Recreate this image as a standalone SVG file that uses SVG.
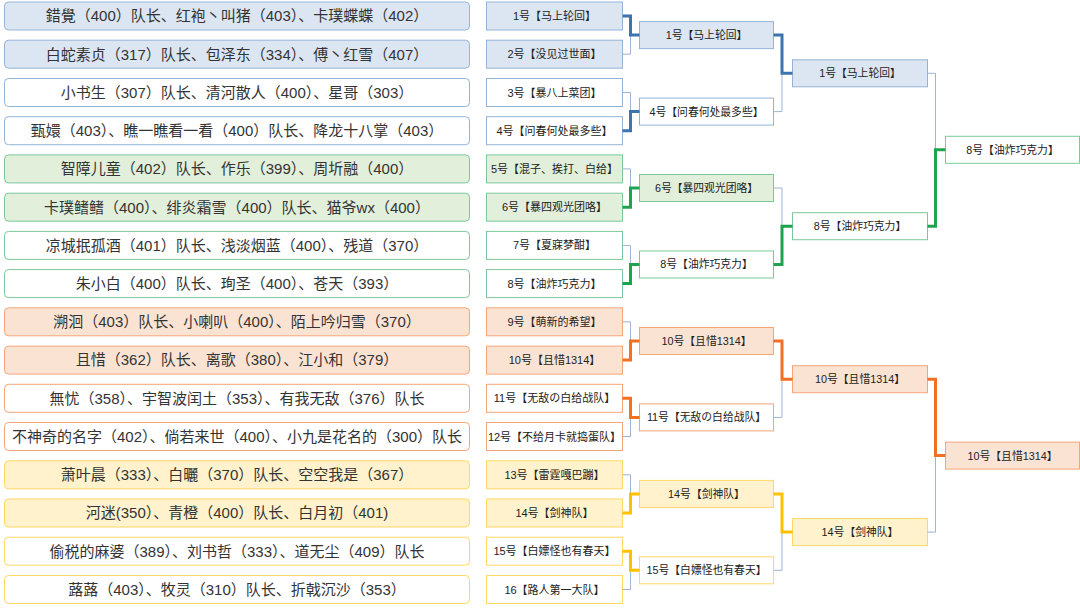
<svg xmlns="http://www.w3.org/2000/svg" width="1080" height="609" viewBox="0 0 1080 609">
<style>
text{font-family:"Liberation Sans","Noto Sans CJK SC",sans-serif;text-anchor:middle;fill:#222}
.L{font-size:15px;fill:#333}
.r1{font-size:11px}
.r{font-size:10.8px}
.bf{fill:#DCE6F2;stroke:#95B3D7;stroke-width:1}
.bw{fill:#fff;stroke:#95B3D7;stroke-width:1}
.gf{fill:#E2EFDA;stroke:#7DC89A;stroke-width:1}
.gw{fill:#fff;stroke:#7DC89A;stroke-width:1}
.of{fill:#FBE3D4;stroke:#F4A67A;stroke-width:1}
.ow{fill:#fff;stroke:#F4A67A;stroke-width:1}
.yf{fill:#FFF2CC;stroke:#FFD865;stroke-width:1}
.yw{fill:#fff;stroke:#FFD865;stroke-width:1}
.thin{fill:none;stroke:#9DB4D2;stroke-width:1}
.tb{fill:none;stroke:#3C74B0;stroke-width:3}
.tg{fill:none;stroke:#1EA44F;stroke-width:3}
.to{fill:none;stroke:#F36F21;stroke-width:3}
.ty{fill:none;stroke:#FFC000;stroke-width:3}
</style>
<rect width="1080" height="609" fill="#fff"/>
<g id="teams">
<g id="team1"><rect class="bf" x="4.5" y="2" width="465" height="28" rx="4"/><text class="L" x="237" y="21.3">錯覺（400）队长、红袍丶叫猪（403）、卡璞蝶蝶（402）</text></g>
<g id="team2"><rect class="bf" x="4.5" y="40.2" width="465" height="28" rx="4"/><text class="L" x="237" y="59.5">白蛇素贞（317）队长、包泽东（334）、傅丶红雪（407）</text></g>
<g id="team3"><rect class="bw" x="4.5" y="78.5" width="465" height="28" rx="4"/><text class="L" x="237" y="97.8">小书生（307）队长、清河散人（400）、星哥（303）</text></g>
<g id="team4"><rect class="bw" x="4.5" y="116.7" width="465" height="28" rx="4"/><text class="L" x="237" y="136">甄嬛（403）、瞧一瞧看一看（400）队长、降龙十八掌（403）</text></g>
<g id="team5"><rect class="gf" x="4.5" y="154.9" width="465" height="28" rx="4"/><text class="L" x="237" y="174.2">智障儿童（402）队长、作乐（399）、周圻融（400）</text></g>
<g id="team6"><rect class="gf" x="4.5" y="193.2" width="465" height="28" rx="4"/><text class="L" x="237" y="212.5">卡璞鳍鳍（400）、绯炎霜雪（400）队长、猫爷wx（400）</text></g>
<g id="team7"><rect class="gw" x="4.5" y="231.4" width="465" height="28" rx="4"/><text class="L" x="237" y="250.7">凉城抿孤酒（401）队长、浅淡烟蓝（400）、残道（370）</text></g>
<g id="team8"><rect class="gw" x="4.5" y="269.6" width="465" height="28" rx="4"/><text class="L" x="237" y="288.9">朱小白（400）队长、珣圣（400）、苍天（393）</text></g>
<g id="team9"><rect class="of" x="4.5" y="307.8" width="465" height="28" rx="4"/><text class="L" x="237" y="327.1">溯洄（403）队长、小喇叭（400）、陌上吟归雪（370）</text></g>
<g id="team10"><rect class="of" x="4.5" y="346.1" width="465" height="28" rx="4"/><text class="L" x="237" y="365.4">且惜（362）队长、离歌（380）、江小和（379）</text></g>
<g id="team11"><rect class="ow" x="4.5" y="384.3" width="465" height="28" rx="4"/><text class="L" x="237" y="403.6">無忧（358）、宇智波闰土（353）、有我无敌（376）队长</text></g>
<g id="team12"><rect class="ow" x="4.5" y="422.5" width="465" height="28" rx="4"/><text class="L" x="237" y="441.8">不神奇的名字（402）、倘若来世（400）、小九是花名的（300）队长</text></g>
<g id="team13"><rect class="yf" x="4.5" y="460.8" width="465" height="28" rx="4"/><text class="L" x="237" y="480.1">萧叶晨（333）、白曬（370）队长、空空我是（367）</text></g>
<g id="team14"><rect class="yf" x="4.5" y="499" width="465" height="28" rx="4"/><text class="L" x="237" y="518.3">河迷(350）、青橙（400）队长、白月初（401)</text></g>
<g id="team15"><rect class="yw" x="4.5" y="537.2" width="465" height="28" rx="4"/><text class="L" x="237" y="556.5">偷税的麻婆（389）、刘书哲（333）、道无尘（409）队长</text></g>
<g id="team16"><rect class="yw" x="4.5" y="575.5" width="465" height="28" rx="4"/><text class="L" x="237" y="594.8">蕗蕗（403）、牧灵（310）队长、折戟沉沙（353）</text></g>
</g>
<g id="round1">
<g id="r1-1"><rect class="bf" x="486.5" y="2" width="136" height="28"/><text class="r1" x="554.5" y="20">1号【马上轮回】</text></g>
<g id="r1-2"><rect class="bf" x="486.5" y="40.2" width="136" height="28"/><text class="r1" x="554.5" y="58.2">2号【没见过世面】</text></g>
<g id="r1-3"><rect class="bw" x="486.5" y="78.5" width="136" height="28"/><text class="r1" x="554.5" y="96.5">3号【暴八上菜团】</text></g>
<g id="r1-4"><rect class="bw" x="486.5" y="116.7" width="136" height="28"/><text class="r1" x="554.5" y="134.7">4号【问春何处最多些】</text></g>
<g id="r1-5"><rect class="gf" x="486.5" y="154.9" width="136" height="28"/><text class="r1" x="554.5" y="172.9">5号【混子、挨打、白给】</text></g>
<g id="r1-6"><rect class="gf" x="486.5" y="193.2" width="136" height="28"/><text class="r1" x="554.5" y="211.2">6号【暴四观光团咯】</text></g>
<g id="r1-7"><rect class="gw" x="486.5" y="231.4" width="136" height="28"/><text class="r1" x="554.5" y="249.4">7号【夏寐梦酣】</text></g>
<g id="r1-8"><rect class="gw" x="486.5" y="269.6" width="136" height="28"/><text class="r1" x="554.5" y="287.6">8号【油炸巧克力】</text></g>
<g id="r1-9"><rect class="of" x="486.5" y="307.8" width="136" height="28"/><text class="r1" x="554.5" y="325.8">9号【萌新的希望】</text></g>
<g id="r1-10"><rect class="of" x="486.5" y="346.1" width="136" height="28"/><text class="r1" x="554.5" y="364.1">10号【且惜1314】</text></g>
<g id="r1-11"><rect class="ow" x="486.5" y="384.3" width="136" height="28"/><text class="r1" x="554.5" y="402.3">11号【无敌の白给战队】</text></g>
<g id="r1-12"><rect class="ow" x="486.5" y="422.5" width="136" height="28"/><text class="r1" x="554.5" y="440.5">12号【不给月卡就捣蛋队】</text></g>
<g id="r1-13"><rect class="yf" x="486.5" y="460.8" width="136" height="28"/><text class="r1" x="554.5" y="478.8">13号【雷霆嘎巴蹦】</text></g>
<g id="r1-14"><rect class="yf" x="486.5" y="499" width="136" height="28"/><text class="r1" x="554.5" y="517">14号【剑神队】</text></g>
<g id="r1-15"><rect class="yw" x="486.5" y="537.2" width="136" height="28"/><text class="r1" x="554.5" y="555.2">15号【白嫖怪也有春天】</text></g>
<g id="r1-16"><rect class="yw" x="486.5" y="575.5" width="136" height="28"/><text class="r1" x="554.5" y="593.5">16【路人第一大队】</text></g>
</g>
<g id="round2">
<g id="r2-1"><rect class="bf" x="639.5" y="21.6" width="134" height="27"/><text class="r" x="706.5" y="39">1号【马上轮回】</text></g>
<g id="r2-2"><rect class="bw" x="639.5" y="98.1" width="134" height="27"/><text class="r" x="706.5" y="115.5">4号【问春何处最多些】</text></g>
<g id="r2-3"><rect class="gf" x="639.5" y="174.5" width="134" height="27"/><text class="r" x="706.5" y="191.9">6号【暴四观光团咯】</text></g>
<g id="r2-4"><rect class="gw" x="639.5" y="251" width="134" height="27"/><text class="r" x="706.5" y="268.4">8号【油炸巧克力】</text></g>
<g id="r2-5"><rect class="of" x="639.5" y="327.5" width="134" height="27"/><text class="r" x="706.5" y="344.9">10号【且惜1314】</text></g>
<g id="r2-6"><rect class="ow" x="639.5" y="403.9" width="134" height="27"/><text class="r" x="706.5" y="421.3">11号【无敌の白给战队】</text></g>
<g id="r2-7"><rect class="yf" x="639.5" y="480.4" width="134" height="27"/><text class="r" x="706.5" y="497.8">14号【剑神队】</text></g>
<g id="r2-8"><rect class="yw" x="639.5" y="556.8" width="134" height="27"/><text class="r" x="706.5" y="574.2">15号【白嫖怪也有春天】</text></g>
</g>
<g id="round3">
<g id="r3-1"><rect class="bf" x="792.5" y="59.8" width="135" height="27"/><text class="r" x="860" y="77.2">1号【马上轮回】</text></g>
<g id="r3-2"><rect class="gw" x="792.5" y="212.7" width="135" height="27"/><text class="r" x="860" y="230.1">8号【油炸巧克力】</text></g>
<g id="r3-3"><rect class="of" x="792.5" y="365.7" width="135" height="27"/><text class="r" x="860" y="383.1">10号【且惜1314】</text></g>
<g id="r3-4"><rect class="yf" x="792.5" y="518.6" width="135" height="27"/><text class="r" x="860" y="536">14号【剑神队】</text></g>
</g>
<g id="round4">
<g id="r4-1"><rect class="gw" x="945.5" y="136.3" width="134" height="27"/><text class="r" x="1012.5" y="153.7">8号【油炸巧克力】</text></g>
<g id="r4-2"><rect class="of" x="945.5" y="442.1" width="134" height="27"/><text class="r" x="1012.5" y="459.5">10号【且惜1314】</text></g>
</g>
<g id="connectors">
<path class="thin" d="M622.5 54.2H630.5V35.1"/>
<path class="tb" d="M622.5 16H630.5V35.1H639.5"/>
<path class="thin" d="M622.5 92.5H630.5V111.6"/>
<path class="tb" d="M622.5 130.7H630.5V111.6H639.5"/>
<path class="thin" d="M622.5 168.9H630.5V188"/>
<path class="tg" d="M622.5 207.2H630.5V188H639.5"/>
<path class="thin" d="M622.5 245.4H630.5V264.5"/>
<path class="tg" d="M622.5 283.6H630.5V264.5H639.5"/>
<path class="thin" d="M622.5 321.8H630.5V341"/>
<path class="to" d="M622.5 360.1H630.5V341H639.5"/>
<path class="thin" d="M622.5 436.5H630.5V417.4"/>
<path class="to" d="M622.5 398.3H630.5V417.4H639.5"/>
<path class="thin" d="M622.5 474.8H630.5V493.9"/>
<path class="ty" d="M622.5 513H630.5V493.9H639.5"/>
<path class="thin" d="M622.5 589.5H630.5V570.3"/>
<path class="ty" d="M622.5 551.2H630.5V570.3H639.5"/>
<path class="thin" d="M773.5 111.6H782V73.3"/>
<path class="tb" d="M773.5 35.1H782V73.3H792.5"/>
<path class="thin" d="M773.5 188H782V226.2"/>
<path class="tg" d="M773.5 264.5H782V226.2H792.5"/>
<path class="thin" d="M773.5 417.4H782V379.2"/>
<path class="to" d="M773.5 341H782V379.2H792.5"/>
<path class="thin" d="M773.5 570.3H782V532.1"/>
<path class="ty" d="M773.5 493.9H782V532.1H792.5"/>
<path class="thin" d="M927.5 73.3H935.5V149.8"/>
<path class="tg" d="M927.5 226.2H935.5V149.8H945.5"/>
<path class="thin" d="M927.5 532.1H935.5V455.6"/>
<path class="to" d="M927.5 379.2H935.5V455.6H945.5"/>
</g>
</svg>
